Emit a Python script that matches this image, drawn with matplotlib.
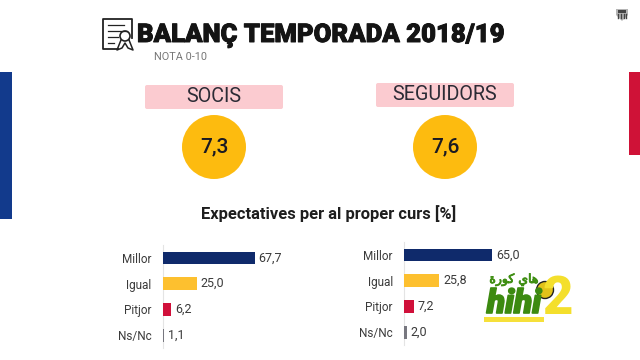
import matplotlib
matplotlib.use('Agg')
import matplotlib.pyplot as plt
import matplotlib.patheffects as pe
from matplotlib.patches import Circle, FancyBboxPatch, Rectangle, Polygon

categories = ['Millor', 'Igual', 'Pitjor', 'Ns/Nc']
socis_values = [67.7, 25.0, 6.2, 1.1]
seguidors_values = [65.0, 25.8, 7.2, 2.0]
socis_labels = ['67,7', '25,0', '6,2', '1,1']
seguidors_labels = ['65,0', '25,8', '7,2', '2,0']
bar_colors = ['#0F2A6B', '#FDC02F', '#D0103A', '#77777F']
groups = ['SOCIS', 'SEGUIDORS']
scores = ['7,3', '7,6']

plt.rcParams['font.family'] = ['Roboto', 'DejaVu Sans']
W, H = 640, 360
fig = plt.figure(figsize=(6.4, 3.6), dpi=100, facecolor='white')

# page layer in pixel coordinates
bg = fig.add_axes([0, 0, 1, 1])
bg.set_xlim(0, W)
bg.set_ylim(H, 0)
bg.axis('off')

# side bands
bg.add_patch(Rectangle((0, 72), 12, 147, color='#123A8C', lw=0))
bg.add_patch(Rectangle((629, 72), 11, 83, color='#CF1237', lw=0))

# title
title = bg.text(137, 35.5, 'BALANÇ TEMPORADA 2018/19', fontsize=18.5, fontweight='black',
                color='#141414', va='center', ha='left')
title.set_path_effects([pe.withStroke(linewidth=0.7, foreground='#141414')])
bg.text(154, 57.5, 'NOTA 0-10', fontsize=7.8, color='#777777', va='center', ha='left')

# certificate icon
ink = '#222222'
bg.plot([132, 132, 103, 103, 118], [38, 19, 19, 49, 49], color=ink, lw=1.3)
for y, x2 in [(25, 124), (31, 127), (37, 118), (43, 114)]:
    bg.plot([108, x2], [y, y], color=ink, lw=0.9)
bg.add_patch(Circle((125, 36), 5, fc='none', ec=ink, lw=1.2))
bg.plot([121, 117, 122, 125, 128, 133, 129], [40, 50, 48, 43, 48, 50, 40], color=ink, lw=1.1)

# club crest top right
bg.add_patch(Polygon([(616, 9), (628, 9), (628, 15), (622, 21), (616, 15)], fc='#B5B5B5', ec='none'))
bg.add_patch(Rectangle((618, 10), 8, 3, color='#444444', lw=0))
for x in [617.5, 620.5, 623.5, 626]:
    bg.plot([x, x], [14, 18], color='#444444', lw=1)

# group labels and scores
box_x = [145, 376]
box_y = [85, 83]
circle_x = [214, 445]
for i in range(2):
    bg.add_patch(FancyBboxPatch((box_x[i] + 2, box_y[i] + 2), 134, 20,
                                boxstyle='round,pad=2', fc='#FBCBD0', ec='none'))
    bg.text(box_x[i] + 69, box_y[i] + 11.5, groups[i], fontsize=14.2, color='#2B2B35',
            ha='center', va='center')
    bg.add_patch(Circle((circle_x[i], 147), 32, fc='#FDBB0F', ec='none'))
    bg.text(circle_x[i], 147, scores[i], fontsize=15, fontweight='medium', color='#1A1A22',
            ha='center', va='center')

bg.text(329, 214, 'Expectatives per al proper curs [%]', fontsize=11.9, fontweight='bold',
        color='#1E1E1E', ha='center', va='center')


def bar_panel(x0, centre0, step, values, labels):
    # x axis 0-100 at about 1.36 px per unit
    y_top = centre0 - step / 2
    y_bot = centre0 + 3.5 * step
    ax = fig.add_axes([x0 / W, 1 - y_bot / H, 136 / W, (y_bot - y_top) / H])
    ax.barh(range(4), values, height=0.5, color=bar_colors, zorder=3)
    ax.set_xlim(0, 100)
    ax.set_ylim(3.5, -0.5)
    ax.set_yticks(range(4))
    ax.set_yticklabels(categories, fontsize=8.5, color='#3A3A3A')
    ax.set_xticks([])
    ax.tick_params(axis='y', length=0, pad=8)
    ax.patch.set_alpha(0)
    for s in ['top', 'right', 'bottom']:
        ax.spines[s].set_visible(False)
    ax.spines['left'].set_color('#E4E4E4')
    ax.spines['left'].set_zorder(1)
    for i, v in enumerate(values):
        ax.text(v + 3, i, labels[i], fontsize=9, color='#3A3A3A', va='center', ha='left')
    return ax


bar_panel(162.5, 258, 25.7, socis_values, socis_labels)
bar_panel(404, 255, 25.7, seguidors_values, seguidors_labels)

# watermark on top
top = fig.add_axes([0, 0, 1, 1])
top.set_xlim(0, W)
top.set_ylim(H, 0)
top.axis('off')
top.patch.set_alpha(0)
top.text(558, 300, '2', fontsize=38, fontweight='black', color='#F4DF2C', ha='center', va='center')
arabic = top.text(514, 279.5, '\ufe93\ufead\ufeee\ufedb \ufef1\ufe8e\ufeeb', fontsize=9,
                  color='#3E8E12', family='DejaVu Sans', ha='center', va='center')
arabic.set_path_effects([pe.withStroke(linewidth=0.6, foreground='#3E8E12')])
hihi = top.text(514, 304, 'hihi', fontsize=24, fontweight='black', fontstyle='italic',
                color='#3C8A10', ha='center', va='center')
hihi.set_path_effects([pe.withStroke(linewidth=1.2, foreground='#3C8A10')])
top.add_patch(Rectangle((484, 317), 60, 5, color='#F6E03A', lw=0))
top.add_patch(Circle((545, 290), 8.5, fc='#E2C21A', ec='#222222', lw=1))

fig.savefig('out.png', dpi=100, facecolor='white')
